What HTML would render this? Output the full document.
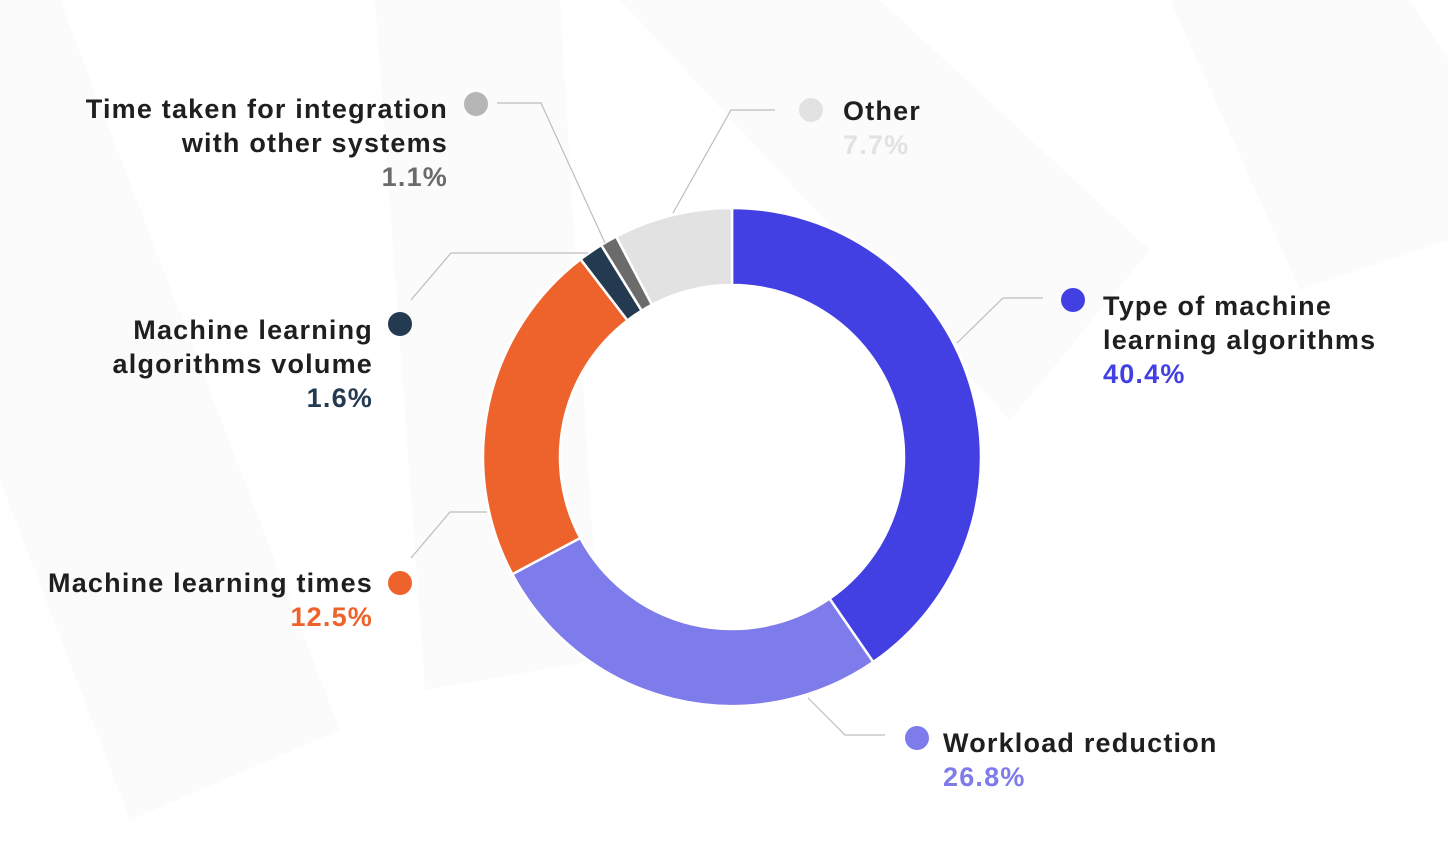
<!DOCTYPE html>
<html><head><meta charset="utf-8"><style>
html,body{margin:0;padding:0;background:#fff}
svg{display:block}
text{font-family:"Liberation Sans",sans-serif;font-weight:700;font-size:27px;letter-spacing:1.2px}
</style></head><body>
<svg id="chart" width="1448" height="844" viewBox="0 0 1448 844">
<g fill="#fbfbfb">
<polygon points="0,0 60,0 340,730 130,820 0,480"/>
<polygon points="375,0 560,0 600,660 425,690"/>
<polygon points="620,0 880,0 1150,250 1010,420"/>
<polygon points="1170,0 1410,0 1448,60 1448,240 1300,290"/>
</g>
<g id="slices"></g>
<g id="leaders" stroke="#bdbdbd" stroke-width="1.2" fill="none">
<polyline points="957,343 1003,298 1043,298"/>
<polyline points="808,698 845,735 885,735"/>
<polyline points="487,512 450,512 411,558"/>
<polyline points="588,253 451,253 411,300"/>
<polyline points="605,243 541,103 497,103"/>
<polyline points="673,213 731,110 775,110"/>
</g>
<g id="labels"></g>
</svg>
<script>
const categories=["Type of machine learning algorithms","Workload reduction","Machine learning times","Machine learning algorithms volume","Time taken for integration with other systems","Other"];
const values=[40.4,26.8,22.4,1.6,1.1,7.7];
const valueLabels=["40.4%","26.8%","12.5%","1.6%","1.1%","7.7%"];
const colors=["#4340e3","#7e7beb","#ee632b","#233a50","#6b6b6b","#e2e2e2"];
const cx=732,cy=457,R=249,r=172;
const NS="http://www.w3.org/2000/svg";
const total=values.reduce((a,b)=>a+b,0);
function pt(a,rad){return [cx+rad*Math.sin(a),cy-rad*Math.cos(a)];}
let acc=0;
const sg=document.getElementById('slices');
values.forEach((v,i)=>{
  const a0=acc/total*2*Math.PI; acc+=v; const a1=acc/total*2*Math.PI;
  const large=(a1-a0)>Math.PI?1:0;
  const p0=pt(a0,R),p1=pt(a1,R),q1=pt(a1,r),q0=pt(a0,r);
  const p=document.createElementNS(NS,'path');
  p.setAttribute('d',`M${p0} A${R},${R} 0 ${large} 1 ${p1} L${q1} A${r},${r} 0 ${large} 0 ${q0} Z`);
  p.setAttribute('fill',colors[i]);p.setAttribute('stroke','#fff');p.setAttribute('stroke-width','2.5');
  
  
  sg.appendChild(p);
});
const layout=[
 [1073,300,1103,'start',["Type of machine","learning algorithms"],315],
 [917,738,943,'start',["Workload reduction"],752],
 [400,583,373,'end',["Machine learning times"],592],
 [400,324,373,'end',["Machine learning","algorithms volume"],339],
 [476,104,448,'end',["Time taken for integration","with other systems"],118],
 [811,110,843,'start',["Other"],120]
];
const lg=document.getElementById('labels');
layout.forEach((L,i)=>{
  const c=document.createElementNS(NS,'circle');
  c.setAttribute('cx',L[0]);c.setAttribute('cy',L[1]);c.setAttribute('r',12);
  c.setAttribute('fill',i===4?'#b5b5b5':colors[i]);
  
  
  lg.appendChild(c);
  let y=L[5];
  L[4].forEach(s=>{
    const t=document.createElementNS(NS,'text');
    t.setAttribute('x',L[2]);t.setAttribute('y',y);t.setAttribute('text-anchor',L[3]);t.setAttribute('fill','#1f1f1f');
    t.textContent=s;
    
    
    lg.appendChild(t);y+=34;
  });
  const t=document.createElementNS(NS,'text');
  t.setAttribute('x',L[2]);t.setAttribute('y',y);t.setAttribute('text-anchor',L[3]);
  t.setAttribute('fill',colors[i]);
  t.textContent=valueLabels[i];
  
  
  lg.appendChild(t);
});
</script>
</body></html>
